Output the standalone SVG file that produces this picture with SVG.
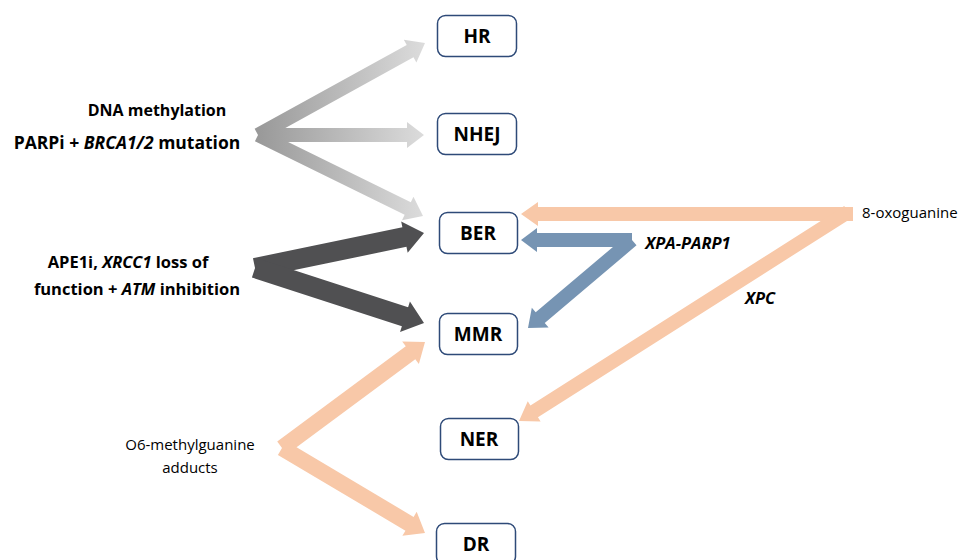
<svg xmlns="http://www.w3.org/2000/svg" width="966" height="560" viewBox="0 0 966 560">
<style>
.box{fill:#fff;stroke:#2e4a78;stroke-width:1.5}
.lbl{font-family:"Open Sans","Liberation Sans",sans-serif;font-weight:bold;font-size:19px;fill:#000;text-anchor:middle}
.src{font-family:"Open Sans","Liberation Sans",sans-serif;font-weight:bold;font-size:16.5px;fill:#000;text-anchor:middle}
.reg{font-family:"Open Sans","Liberation Sans",sans-serif;font-size:15px;fill:#000}
.it{font-style:italic}
.gray{fill:url(#gg)}
.dark{fill:#505052}
.peach{fill:#f8c8a8}
.blue{fill:#7694b3}
</style>
<defs>
<linearGradient id="gg" gradientUnits="userSpaceOnUse" x1="258" y1="0" x2="425" y2="0">
<stop offset="0" stop-color="#999"/>
<stop offset="1" stop-color="#dcdcdc"/>
</linearGradient>
</defs>
<rect width="966" height="560" fill="#fff"/>
<g id="connectors">
<polygon class="gray" points="261.38,141.13 413.49,57.33 416.38,62.58 425,43 403.84,39.82 406.73,45.07 254.62,128.87"/>
<polygon class="gray" points="258,128 407,128 407,122 424,135 407,148 407,142 258,142"/>
<polygon class="gray" points="254.92,141.28 404.66,214.79 402.01,220.18 423,216 413.47,196.84 410.83,202.23 261.09,128.72"/>
<polygon class="dark" points="257.03,277.79 406.45,246.85 407.67,252.73 424,233 401.18,221.39 402.39,227.27 252.97,258.21"/>
<polygon class="dark" points="251.91,277.51 401.89,326.32 400.03,332.02 424,323 409.93,301.60 408.08,307.30 258.10,258.49"/>
<polygon class="peach" points="286.76,454.43 415.30,359.15 418.88,363.97 425,342 402.20,341.47 405.78,346.29 277.24,441.57"/>
<polygon class="peach" points="277.91,454.88 405.44,530.68 402.38,535.83 425,533 416.68,511.77 413.62,516.92 286.09,441.12"/>
<polygon class="peach" points="853,207 538,207 538,202 521,214 538,226 538,221 853,221"/>
<polygon class="peach" points="844.25,206.09 530.44,405.44 527.76,401.22 519,421 540.62,421.48 537.94,417.26 851.75,217.91"/>
<polygon class="blue" points="632,233 537,233 537,228 521,240 537,252 537,247 632,247"/>
<polygon class="blue" points="627.48,234.66 535.70,312.32 531.82,307.73 528,328 548.62,327.59 544.74,323.01 636.52,245.35"/>
</g>
<g id="node-HR"><rect class="box" x="437.5" y="15.5" width="79" height="41" rx="8"/><text class="lbl" x="477" y="43">HR</text></g>
<g id="node-NHEJ"><rect class="box" x="437.5" y="113.5" width="79" height="41" rx="8"/><text class="lbl" x="477" y="141">NHEJ</text></g>
<g id="node-BER"><rect class="box" x="439.5" y="212.5" width="78" height="41" rx="8"/><text class="lbl" x="478" y="240">BER</text></g>
<g id="node-MMR"><rect class="box" x="439.5" y="313.5" width="78" height="41" rx="8"/><text class="lbl" x="478" y="341">MMR</text></g>
<g id="node-NER"><rect class="box" x="440.5" y="418.5" width="78" height="41" rx="8"/><text class="lbl" x="479" y="446">NER</text></g>
<g id="node-DR"><rect class="box" x="436.5" y="523.5" width="79" height="41" rx="8"/><text class="lbl" x="476" y="551">DR</text></g>
<g id="src-dna">
<text class="src" x="157" y="116" style="font-size:16px">DNA methylation</text>
<text class="src" x="127" y="149" style="font-size:17.5px">PARPi + <tspan class="it">BRCA1/2</tspan> mutation</text>
</g>
<g id="src-ape">
<text class="src" x="128" y="268">APE1i, <tspan class="it">XRCC1</tspan> loss of</text>
<text class="src" x="137" y="295">function + <tspan class="it">ATM</tspan> inhibition</text>
</g>
<g id="src-o6">
<text class="reg" x="190" y="450" text-anchor="middle">O6-methylguanine</text>
<text class="reg" x="190" y="473" text-anchor="middle">adducts</text>
</g>
<g id="src-8oxo"><text class="reg" x="862" y="218">8-oxoguanine</text></g>
<text class="src it" x="688" y="249">XPA-PARP1</text>
<text class="src it" x="760" y="304">XPC</text>
</svg>
